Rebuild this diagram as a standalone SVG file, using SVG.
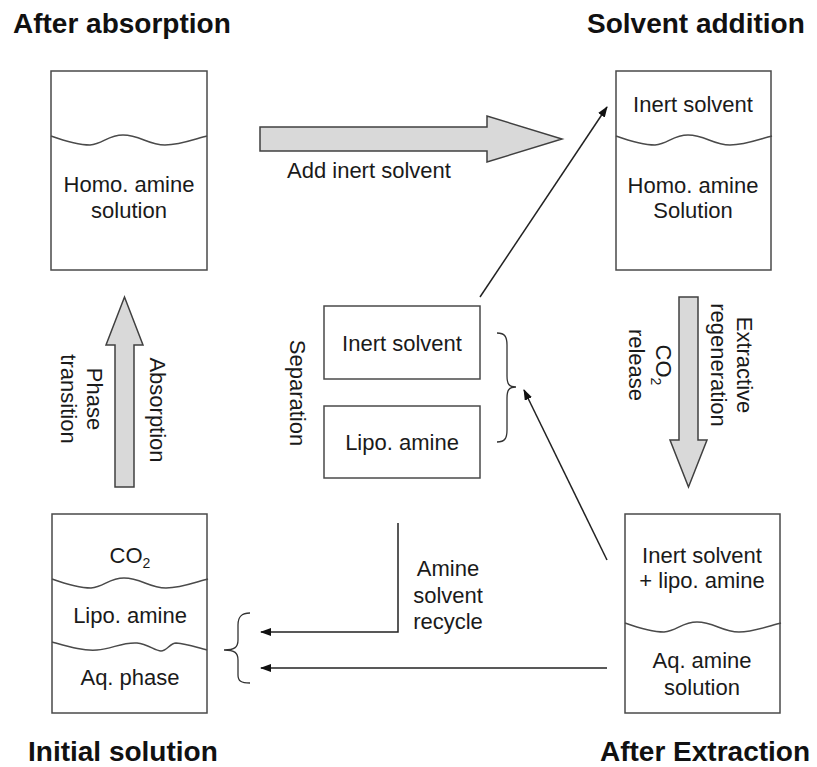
<svg xmlns="http://www.w3.org/2000/svg" width="817" height="767" viewBox="0 0 817 767">
  <style>
    .box{fill:#fff;stroke:#4a4a4a;stroke-width:1.5}
    .wave{fill:none;stroke:#4a4a4a;stroke-width:1.5}
    .t{font-family:"Liberation Sans",Arial,sans-serif;font-size:22px;fill:#1a1a1a;text-anchor:middle}
    .title{font-family:"Liberation Sans",Arial,sans-serif;font-size:28px;font-weight:bold;fill:#111}
    .big{fill:#d9d9d9;stroke:#404040;stroke-width:1.5}
    .line{fill:none;stroke:#222;stroke-width:1.5}
    .brace{fill:none;stroke:#333;stroke-width:1.3}
  </style>
  <defs>
    <path id="wave" class="wave" d="M0,0 C14,5 27,9 39,9 C52,8 57,-1 72,-1 C89,-1 97,9 114,9 C129,9 144,3 156,0"/>
    <marker id="ah" markerUnits="userSpaceOnUse" markerWidth="11" markerHeight="8" refX="10" refY="4" orient="auto">
      <path d="M0,0 L11,4 L0,8 z" fill="#111"/>
    </marker>
  </defs>

  <rect width="817" height="767" fill="#fff"/>

  <!-- stage titles -->
  <text class="title" x="13" y="33">After absorption</text>
  <text class="title" x="587" y="33">Solvent addition</text>
  <text class="title" x="28" y="761">Initial solution</text>
  <text class="title" x="600" y="761">After Extraction</text>

  <!-- homogeneous solution after absorption -->
  <g id="after-absorption">
    <rect class="box" x="51" y="71" width="156" height="199"/>
    <use href="#wave" x="51" y="136"/>
    <text class="t" x="129" y="192">Homo. amine</text>
    <text class="t" x="129" y="218">solution</text>
  </g>

  <!-- vessel after inert solvent addition -->
  <g id="solvent-addition">
    <rect class="box" x="616" y="71" width="155" height="199"/>
    <use href="#wave" x="616" y="136"/>
    <text class="t" x="693" y="112">Inert solvent</text>
    <text class="t" x="693" y="193">Homo. amine</text>
    <text class="t" x="693" y="218">Solution</text>
  </g>

  <!-- separated streams -->
  <g id="sep-inert">
    <rect class="box" x="324" y="306" width="156" height="73"/>
    <text class="t" x="402" y="351">Inert solvent</text>
  </g>
  <g id="sep-lipo">
    <rect class="box" x="324" y="406" width="156" height="72"/>
    <text class="t" x="402" y="450">Lipo. amine</text>
  </g>

  <!-- biphasic starting solution -->
  <g id="initial-solution">
    <rect class="box" x="52" y="514" width="155" height="199"/>
    <use href="#wave" x="52" y="579"/>
    <path class="wave" d="M52,642 C70,647 83,651 97,650 C112,649 122,642 137,643 C148,644 155,651 161,651 C167,651 170,643 176,643 C188,644 198,648 207,650"/>
    <text class="t" x="130" y="563">CO<tspan font-size="14" dy="5">2</tspan></text>
    <text class="t" x="130" y="623">Lipo. amine</text>
    <text class="t" x="130" y="685">Aq. phase</text>
  </g>

  <!-- vessel after extraction -->
  <g id="after-extraction">
    <rect class="box" x="625" y="514" width="155" height="199"/>
    <use href="#wave" x="625" y="623"/>
    <text class="t" x="702" y="563">Inert solvent</text>
    <text class="t" x="702" y="588">+ lipo. amine</text>
    <text class="t" x="702" y="668">Aq. amine</text>
    <text class="t" x="702" y="695">solution</text>
  </g>

  <!-- connectors -->
  <g id="connectors">
    <polygon class="big" points="260,127 487,127 487,116 562,139 487,162 487,151 260,151"/>
    <polygon class="big" points="115,487 115,345 106,345 124.5,297 143,345 134,345 134,487"/>
    <polygon class="big" points="679,297 698,297 698,440 707,440 688.5,487 670,440 679,440"/>

    <line class="line" x1="480" y1="297" x2="607" y2="107" marker-end="url(#ah)"/>
    <line class="line" x1="607" y1="560" x2="524" y2="390" marker-end="url(#ah)"/>
    <polyline class="line" points="398,523 398,632 261,632" marker-end="url(#ah)"/>
    <line class="line" x1="607" y1="668" x2="261" y2="668" marker-end="url(#ah)"/>

    <path class="brace" d="M497,333 C505,333 507,337 507,345 L507,376 C507,384 509,387 516,387 C509,387 507,390 507,398 L507,430 C507,438 505,442 497,442"/>
    <path class="brace" d="M250,613 C241,613 238,617 238,625 L238,640 C238,647 235,650 224,650 C235,650 238,653 238,660 L238,675 C238,681 241,683 250,683"/>

    <text class="t" x="287" y="178" style="text-anchor:start">Add inert solvent</text>
    <text class="t" x="150" y="410" transform="rotate(90 150 410)">Absorption</text>
    <text class="t" x="87" y="399" transform="rotate(90 87 399)">Phase</text>
    <text class="t" x="61" y="399" transform="rotate(90 61 399)">transition</text>
    <text class="t" x="290" y="393" transform="rotate(90 290 393)">Separation</text>
    <text class="t" x="737" y="365" transform="rotate(90 737 365)">Extractive</text>
    <text class="t" x="711" y="365" transform="rotate(90 711 365)">regeneration</text>
    <text class="t" x="656" y="365" transform="rotate(90 656 365)">CO<tspan font-size="14" dy="5">2</tspan></text>
    <text class="t" x="629" y="365" transform="rotate(90 629 365)">release</text>
    <text class="t" x="448" y="576">Amine</text>
    <text class="t" x="448" y="603">solvent</text>
    <text class="t" x="448" y="629">recycle</text>
  </g>
</svg>
